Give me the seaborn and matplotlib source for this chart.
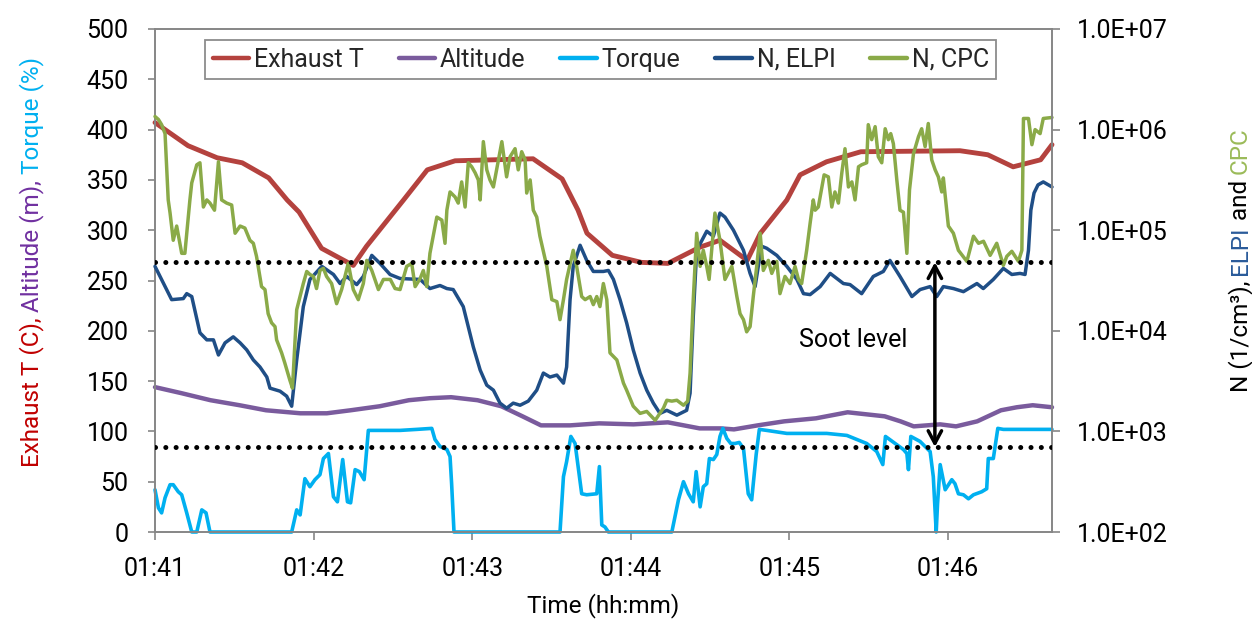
import matplotlib
matplotlib.use("Agg")
import matplotlib.pyplot as plt
import seaborn as sns
from matplotlib.lines import Line2D
from matplotlib.ticker import NullLocator

# ---------------------------------------------------------------- axes data
# time is given in seconds after 01:41:00
x_ticks = [0, 60, 120, 180, 240, 300]
x_tick_labels = ["01:41", "01:42", "01:43", "01:44", "01:45", "01:46"]
x_end = 339.3

left_ticks = [0, 50, 100, 150, 200, 250, 300, 350, 400, 450, 500]
right_ticks = [1e2, 1e3, 1e4, 1e5, 1e6, 1e7]
right_tick_labels = ["1.0E+02", "1.0E+03", "1.0E+04", "1.0E+05", "1.0E+06", "1.0E+07"]

series_names = ["Exhaust T", "Altitude", "Torque", "N, ELPI", "N, CPC"]

# ---------------------------------------------------------------- Exhaust T (C)
exhaust_time = [0, 12.5, 23.5, 33, 43, 50, 54.5, 63, 75, 80,
                94, 103, 113.5, 143, 154, 160, 163.4, 173, 184, 194,
                206, 213.7, 224, 229, 239, 244, 254, 267, 304.5, 315,
                324.6, 335, 339.3]
exhaust_temp = [407, 384, 372, 367, 352, 330, 318, 282, 265, 284,
                330, 360, 369, 371, 351, 320, 297, 275, 268, 267,
                283, 290, 270, 297, 330, 355, 368, 378, 379, 375,
                363, 370, 385]

# ---------------------------------------------------------------- Altitude (m)
alt_time = [0, 10, 21, 32, 42, 55, 65, 74, 85, 96,
            104, 112, 122, 131, 139, 146, 157, 168, 181, 194,
            206, 214, 219, 228, 238, 250, 262, 269, 276, 282,
            287, 297, 303, 311, 320, 326, 332, 339.3]
alt_m = [144, 138, 131, 126, 121, 118, 118, 121, 125, 131,
         133, 134, 131, 125, 115, 106, 106, 108, 107, 109,
         103, 103, 102, 106, 110, 113, 119, 117, 115, 110,
         105, 107, 105, 110, 121, 124, 126, 124]

# ---------------------------------------------------------------- Torque (%)
tq_time = [0, 1.3, 2.5, 3.8, 5.7, 6.9, 8.8, 10.1, 12, 13.9,
           15.8, 17.7, 19.3, 20.8, 51.7, 53.6, 54.9, 56.7, 58.6, 60.5,
           62.4, 63.7, 65.6, 67.5, 69, 71, 72.8, 74, 75.7, 77.3,
           79.1, 80.7, 83.9, 92.7, 99, 104.7, 105.9, 107.8, 110.4, 111.6,
           112.2, 113.1, 153.2, 154.5, 155.7, 157.3, 158.9, 161.4, 163.3, 167.1,
           168.1, 169, 170.2, 171.5, 195.5, 198, 199.9, 201.8, 203.6, 204.7,
           206.2, 207.4, 208.7, 209.7, 211.2, 212.5, 213.7, 214.8, 216.3, 217.8,
           219.4, 221, 222.6, 224.4, 225.7, 227.4, 228.6, 231.4, 239, 254.1,
           261.7, 269.2, 273, 275.3, 276.3, 283.1, 284.4, 285, 285.9, 289.4,
           293.2, 294.4, 295.5, 296, 297, 298.9, 301.4, 302.6, 303.9, 305.8,
           307.7, 309.6, 312.7, 314.6, 315.2, 317.1, 318.8, 320.9, 339.3]
tq_pct = [42, 24, 19, 34, 47, 47, 40, 37, 19, 0,
          0, 22, 19, 0, 0, 22, 17, 53, 45, 52,
          57, 73, 78, 35, 30, 72, 30, 29, 62, 60,
          52, 101, 101, 101, 102, 103, 92, 85, 82, 75,
          48, 0, 0, 55, 70, 95, 88, 38, 37, 38,
          65, 7, 5, 0, 0, 32, 50, 38, 30, 60,
          25, 45, 48, 73, 72, 77, 95, 103, 93, 88,
          88, 89, 83, 38, 32, 77, 102, 101, 98, 98,
          96, 88, 80, 67, 95, 82, 78, 62, 95, 90,
          80, 55, 0, 28, 67, 42, 52, 48, 38, 37,
          33, 37, 40, 43, 73, 73, 103, 102, 102]

# ---------------------------------------------------------------- N, ELPI (1/cm3)
elpi_time = [0, 6.3, 10.7, 12, 13.9, 17, 19.6, 22.1, 24, 26.5,
             29.6, 32.2, 34.7, 37.2, 39.7, 42.3, 43.5, 47.3, 49.8, 51.7,
             53.6, 56.1, 58.6, 63.1, 67.5, 70, 72.5, 76.3, 78.8, 82,
             85.1, 88.9, 92.7, 100.3, 104, 107.8, 110.4, 112.8, 116.6, 120.4,
             123, 125.5, 128, 130.5, 133, 135.5, 138.1, 141.2, 144.4, 146.9,
             149.4, 152, 154.5, 155.7, 157, 158.2, 160.8, 163.3, 165.8, 169.6,
             171.5, 173.4, 175.9, 178.4, 180.9, 183.5, 186, 188.5, 191, 193.6,
             197.4, 201.1, 202.4, 203.6, 204.9, 208.7, 211.2, 213.7, 215.6, 218.8,
             222.6, 225.1, 227, 228.2, 229.5, 231.4, 235.2, 239, 242.8, 245.3,
             247.8, 251.6, 255.4, 260.4, 262.9, 267.3, 271.7, 275.5, 278, 281.8,
             286.3, 289.4, 293.2, 295.7, 298.2, 302, 305.8, 310.9, 313.3, 317.1,
             320.9, 324.1, 327.2, 329.1, 330.4, 331.3, 332.5, 334, 336, 339.3]
elpi_n = [4.37e4, 2.04e4, 2.09e4, 2.34e4, 2.19e4, 9.55e3, 8.13e3, 8.13e3, 5.75e3, 7.59e3,
          8.71e3, 7.59e3, 6.46e3, 5.13e3, 4.37e3, 3.47e3, 2.69e3, 2.51e3, 2.24e3, 1.78e3,
          5.13e3, 1.74e4, 3.24e4, 4.37e4, 3.63e4, 2.95e4, 3.47e4, 2.88e4, 3.47e4, 5.62e4,
          4.68e4, 3.63e4, 3.31e4, 3.24e4, 2.63e4, 2.82e4, 2.63e4, 2.57e4, 1.74e4, 6.92e3,
          4.07e3, 2.88e3, 2.57e3, 1.91e3, 1.70e3, 1.91e3, 1.82e3, 2.0e3, 2.57e3, 3.80e3,
          3.47e3, 3.63e3, 3.02e3, 4.37e3, 2.04e4, 4.37e4, 7.08e4, 5.01e4, 3.89e4, 3.89e4,
          3.98e4, 3.24e4, 2.04e4, 1.20e4, 6.46e3, 3.80e3, 2.57e3, 1.91e3, 1.51e3, 1.62e3,
          1.45e3, 1.62e3, 2.40e3, 1.38e4, 6.31e4, 9.77e4, 8.71e4, 1.48e5, 1.35e5, 1.0e5,
          6.31e4, 3.72e4, 2.75e4, 4.37e4, 6.92e4, 6.61e4, 5.62e4, 4.37e4, 3.24e4, 2.34e4,
          2.29e4, 2.75e4, 3.72e4, 2.95e4, 2.88e4, 2.34e4, 3.47e4, 3.89e4, 5.01e4, 3.47e4,
          2.19e4, 2.57e4, 2.75e4, 2.19e4, 2.75e4, 2.63e4, 2.45e4, 2.95e4, 2.63e4, 3.24e4,
          4.17e4, 3.63e4, 3.72e4, 3.63e4, 6.31e4, 1.58e5, 2.34e5, 2.82e5, 3.02e5, 2.69e5]

# ---------------------------------------------------------------- N, CPC (1/cm3)
cpc_time = [0, 1.3, 2.5, 3.8, 5, 5.7, 6.9, 8.2, 10.1, 11.3,
            13.2, 13.9, 15.8, 17, 18.3, 19.6, 20.8, 22.5, 24, 25.2,
            27.1, 29, 30.3, 32.2, 34, 35.9, 37.2, 38.4, 40.3, 41.6,
            42.8, 44.1, 45.4, 46, 47.9, 49.1, 51, 52, 53.6, 56.1,
            57.4, 58.6, 59.9, 61.1, 62.4, 63.7, 64.9, 66.8, 68.7, 70.6,
            73.1, 75, 76.9, 78.8, 80.1, 82, 84.5, 86.4, 89, 90.8,
            92.7, 95.2, 97.1, 98.4, 100.3, 101.5, 102.8, 104, 106.6, 108.5,
            109.7, 110.4, 111.6, 113.5, 114.7, 116, 117.3, 118.5, 119.8, 121.1,
            122.3, 123, 124.2, 125.5, 126.7, 128, 129.9, 131.2, 133, 134.3,
            136.2, 137.4, 138.7, 140, 140.6, 141.9, 143.1, 144.4, 145.6, 148.2,
            150.1, 152, 153.2, 154.5, 155.7, 158.2, 159.5, 161.4, 162.7, 164.6,
            165.8, 167.1, 168.3, 169.6, 170.9, 172.1, 174.7, 177.2, 178.4, 180.9,
            183.5, 186, 189.2, 192.3, 193.6, 195.5, 197.4, 199.9, 201.5, 202.4,
            203.6, 204.9, 206.2, 207.4, 208.7, 209.6, 211.8, 213.7, 215.6, 218.2,
            220.1, 221.3, 222.6, 223.8, 225.1, 226.3, 227.6, 228.9, 230.1, 232,
            233.3, 235.2, 236.4, 238.3, 240.2, 242.1, 243.4, 244.6, 246.5, 247.8,
            249, 249.7, 250.9, 253.1, 254.7, 256, 257.2, 258.5, 259.8, 261,
            262.3, 263.6, 264.8, 266.1, 267.3, 269.2, 269.8, 271.1, 272.4, 273.6,
            274.9, 276.2, 277.4, 278.3, 279.3, 280.6, 281.8, 283.1, 284.4, 285.4,
            286.9, 288.8, 290, 291.3, 292.5, 293.8, 295.1, 296.3, 297.6, 298.2,
            299.5, 300.1, 302, 303.9, 307.1, 309.6, 311.5, 313.4, 315.9, 318.4,
            320.9, 322.2, 324.1, 326.6, 327.9, 328.5, 330.4, 331.7, 332.9, 334.8,
            336, 339.3]
cpc_n = [1.35e6, 1.26e6, 1.12e6, 9.12e5, 2.0e5, 1.48e5, 7.94e4, 1.10e5, 5.89e4, 5.89e4,
         2.0e5, 2.95e5, 4.47e5, 4.68e5, 1.70e5, 2.0e5, 1.86e5, 1.58e5, 4.79e5, 2.0e5,
         1.86e5, 1.78e5, 9.33e4, 1.10e5, 1.05e5, 7.94e4, 7.41e4, 5.50e4, 2.75e4, 2.57e4,
         1.48e4, 1.20e4, 1.10e4, 8.13e3, 6.03e3, 4.79e3, 3.24e3, 2.69e3, 1.62e4, 2.95e4,
         3.89e4, 3.63e4, 3.47e4, 2.63e4, 3.98e4, 4.17e4, 3.47e4, 2.95e4, 1.86e4, 2.57e4,
         4.68e4, 2.57e4, 2.04e4, 2.95e4, 5.01e4, 3.98e4, 2.57e4, 3.24e4, 3.24e4, 2.63e4,
         2.57e4, 4.37e4, 4.68e4, 2.75e4, 3.31e4, 3.98e4, 2.75e4, 5.89e4, 1.35e5, 1.26e5,
         7.41e4, 1.58e5, 2.40e5, 2.14e5, 1.86e5, 3.02e5, 1.70e5, 4.68e5, 4.27e5, 3.72e5,
         3.16e5, 2.0e5, 7.59e5, 3.98e5, 3.16e5, 2.69e5, 5.01e5, 7.59e5, 3.39e5, 5.37e5,
         6.46e5, 3.98e5, 6.03e5, 5.01e5, 2.34e5, 3.16e5, 1.58e5, 1.35e5, 8.71e4, 4.37e4,
         2.04e4, 1.95e4, 1.29e4, 2.04e4, 3.24e4, 6.31e4, 4.37e4, 2.19e4, 2.04e4, 2.19e4,
         1.82e4, 2.19e4, 1.74e4, 2.95e4, 2.04e4, 6.03e3, 5.13e3, 3.02e3, 2.57e3, 1.78e3,
         1.51e3, 1.58e3, 1.29e3, 1.70e3, 2.04e3, 2.0e3, 2.04e3, 1.82e3, 2.0e3, 3.80e3,
         2.04e4, 9.33e4, 4.37e4, 6.31e4, 4.37e4, 3.24e4, 1.48e5, 7.94e4, 3.24e4, 4.37e4,
         2.19e4, 1.48e4, 1.29e4, 9.77e3, 1.10e4, 2.19e4, 4.37e4, 9.33e4, 3.98e4, 5.01e4,
         3.72e4, 4.90e4, 2.34e4, 3.47e4, 2.95e4, 4.37e4, 3.24e4, 2.95e4, 6.31e4, 1.17e5,
         2.0e5, 1.58e5, 1.70e5, 3.55e5, 3.39e5, 1.70e5, 2.40e5, 1.86e5, 3.72e5, 6.46e5,
         2.69e5, 3.02e5, 2.0e5, 4.27e5, 4.47e5, 4.68e5, 1.12e6, 7.94e5, 1.07e6, 5.37e5,
         4.68e5, 1.02e6, 7.94e5, 9.12e5, 7.24e5, 3.16e5, 1.58e5, 1.51e5, 5.89e4, 2.51e5,
         5.75e5, 8.51e5, 1.02e6, 6.76e5, 1.15e6, 5.01e5, 3.98e5, 3.39e5, 2.40e5, 3.31e5,
         1.58e5, 1.10e5, 9.33e4, 6.31e4, 4.90e4, 8.71e4, 7.41e4, 7.76e4, 5.62e4, 7.41e4,
         4.47e4, 5.50e4, 6.17e4, 4.90e4, 6.31e4, 1.29e6, 1.29e6, 7.08e5, 1.0e6, 9.12e5,
         1.29e6, 1.32e6]

# soot band limits on the particle-number axis and the annotation
soot_low = 700
soot_high = 4.8e4
arrow_time = 295
soot_text = "Soot level"
soot_text_pos = (264, 8.1e3)

# ---------------------------------------------------------------- styling
C_EXH = "#B4423E"
C_ALT = "#7A5B9D"
C_TQ = "#00B0F0"
C_ELPI = "#1F4E86"
C_CPC = "#8AAA48"
C_AXIS = "#868686"

sns.set_theme(style="white")
plt.rcParams["font.family"] = ["Roboto", "DejaVu Sans"]
plt.rcParams["axes.unicode_minus"] = False

W, H = 1252, 619
fig = plt.figure(figsize=(W / 100, H / 100), dpi=100)
fig.patch.set_facecolor("white")

L, R, T, B = 155, 1052, 29, 532
ax = fig.add_axes([L / W, 1 - B / H, (R - L) / W, (B - T) / H])
ax2 = ax.twinx()
ax2.patch.set_visible(False)

line_kw = dict(estimator=None, sort=False, legend=False, clip_on=False,
               solid_joinstyle="round", solid_capstyle="round")
sns.lineplot(x=exhaust_time, y=exhaust_temp, ax=ax, color=C_EXH, lw=3.5, **line_kw)
sns.lineplot(x=alt_time, y=alt_m, ax=ax, color=C_ALT, lw=3.2, **line_kw)
sns.lineplot(x=tq_time, y=tq_pct, ax=ax, color=C_TQ, lw=2.6, **line_kw)
sns.lineplot(x=elpi_time, y=elpi_n, ax=ax2, color=C_ELPI, lw=2.5, **line_kw)
sns.lineplot(x=cpc_time, y=cpc_n, ax=ax2, color=C_CPC, lw=2.5, **line_kw)

# left axis
ax.set_xlim(0, x_end)
ax.set_ylim(0, 500)
ax.set_yticks(left_ticks)
ax.set_xticks(x_ticks)
ax.set_xticklabels(x_tick_labels)
ax.set_xlabel("")
ax.set_ylabel("")

# right (logarithmic) axis
ax2.set_yscale("log")
ax2.set_ylim(1e2, 1e7)
ax2.set_yticks(right_ticks)
ax2.set_yticklabels(right_tick_labels)
ax2.yaxis.set_minor_locator(NullLocator())
ax2.set_ylabel("")

for a in (ax, ax2):
    for sp in a.spines.values():
        sp.set_color(C_AXIS)
        sp.set_linewidth(1.4)
ax.spines["right"].set_visible(False)
for side in ("left", "top", "bottom"):
    ax2.spines[side].set_visible(False)

ax.tick_params(axis="y", which="major", direction="out", length=5, width=1.2,
               color=C_AXIS, labelsize=18, pad=14, left=True, right=False,
               labelcolor="black")
ax.tick_params(axis="x", which="major", direction="out", length=6, width=1.2,
               color=C_AXIS, labelsize=18, pad=12, bottom=True, top=False,
               labelcolor="black")
ax2.tick_params(axis="y", which="major", direction="out", length=6, width=1.2,
                color=C_AXIS, labelsize=18, pad=12, right=True, left=False,
                labelcolor="black")

# soot band: dotted limits and double arrow
dot_style = (0, (0.01, 2.05))
for lvl in (soot_low, soot_high):
    ax2.axhline(lvl, color="black", lw=3.6, ls=dot_style, dash_capstyle="round", zorder=5)
ax2.annotate("", xy=(arrow_time, soot_low), xytext=(arrow_time, soot_high),
             arrowprops=dict(arrowstyle="<->, head_length=0.45, head_width=0.24",
                             color="black", lw=2.5, shrinkA=0, shrinkB=0,
                             mutation_scale=20), zorder=6)
ax2.text(soot_text_pos[0], soot_text_pos[1], soot_text, ha="center", va="center",
         fontsize=18, color="black", zorder=6)

# legend with all five series
series_colors = [C_EXH, C_ALT, C_TQ, C_ELPI, C_CPC]
handles = [Line2D([], [], color=c, lw=3.2, solid_capstyle="round") for c in series_colors]
leg = ax2.legend(handles, series_names, loc="upper center", bbox_to_anchor=(0.497, 0.978),
                 ncol=5, frameon=True, fancybox=False, framealpha=1, edgecolor="#8C8C8C",
                 fontsize=18, handlelength=1.45, handletextpad=0.2, columnspacing=1.4,
                 borderpad=0.3, borderaxespad=0)
leg.get_frame().set_linewidth(1.3)
leg.set_zorder(10)

# x axis title
fig.text((L + R) / 2 / W, 1 - 606 / H, "Time (hh:mm)", ha="center", va="center",
         fontsize=17.5, color="black")


def vertical_colored_label(x_px, y_mid_from_top, parts, size):
    """Write a rotated axis title whose pieces carry their own colours."""
    renderer = fig.canvas.get_renderer()
    probe = fig.text(0, 0, "I", fontsize=size)
    bar = probe.get_window_extent(renderer).width
    probe.remove()

    def advance(s):
        p = fig.text(0, 0, s + "I", fontsize=size)
        w = p.get_window_extent(renderer).width
        p.remove()
        return w - bar

    full = "".join(s for s, _ in parts)
    start = (H - y_mid_from_top) - advance(full) / 2   # pixels from the bottom
    prefix = ""
    for s, c in parts:
        off = advance(prefix) if prefix else 0.0
        fig.text(x_px / W, (start + off) / H, s, rotation=90, rotation_mode="anchor",
                 ha="left", va="baseline", fontsize=size, color=c)
        prefix += s


fig.canvas.draw()
vertical_colored_label(38, 262, [("Exhaust T (C), ", "#C00000"),
                                 ("Altitude (m), ", "#7030A0"),
                                 ("Torque (%)", "#00B0F0")], 17.5)
vertical_colored_label(1247, 260, [("N (1/cm\u00b3), ", "black"),
                                   ("ELPI", "#2A5B9A"),
                                   (" and ", "black"),
                                   ("CPC", "#9BBB59")], 17.5)

fig.savefig("out.png", dpi=100, facecolor="white")
